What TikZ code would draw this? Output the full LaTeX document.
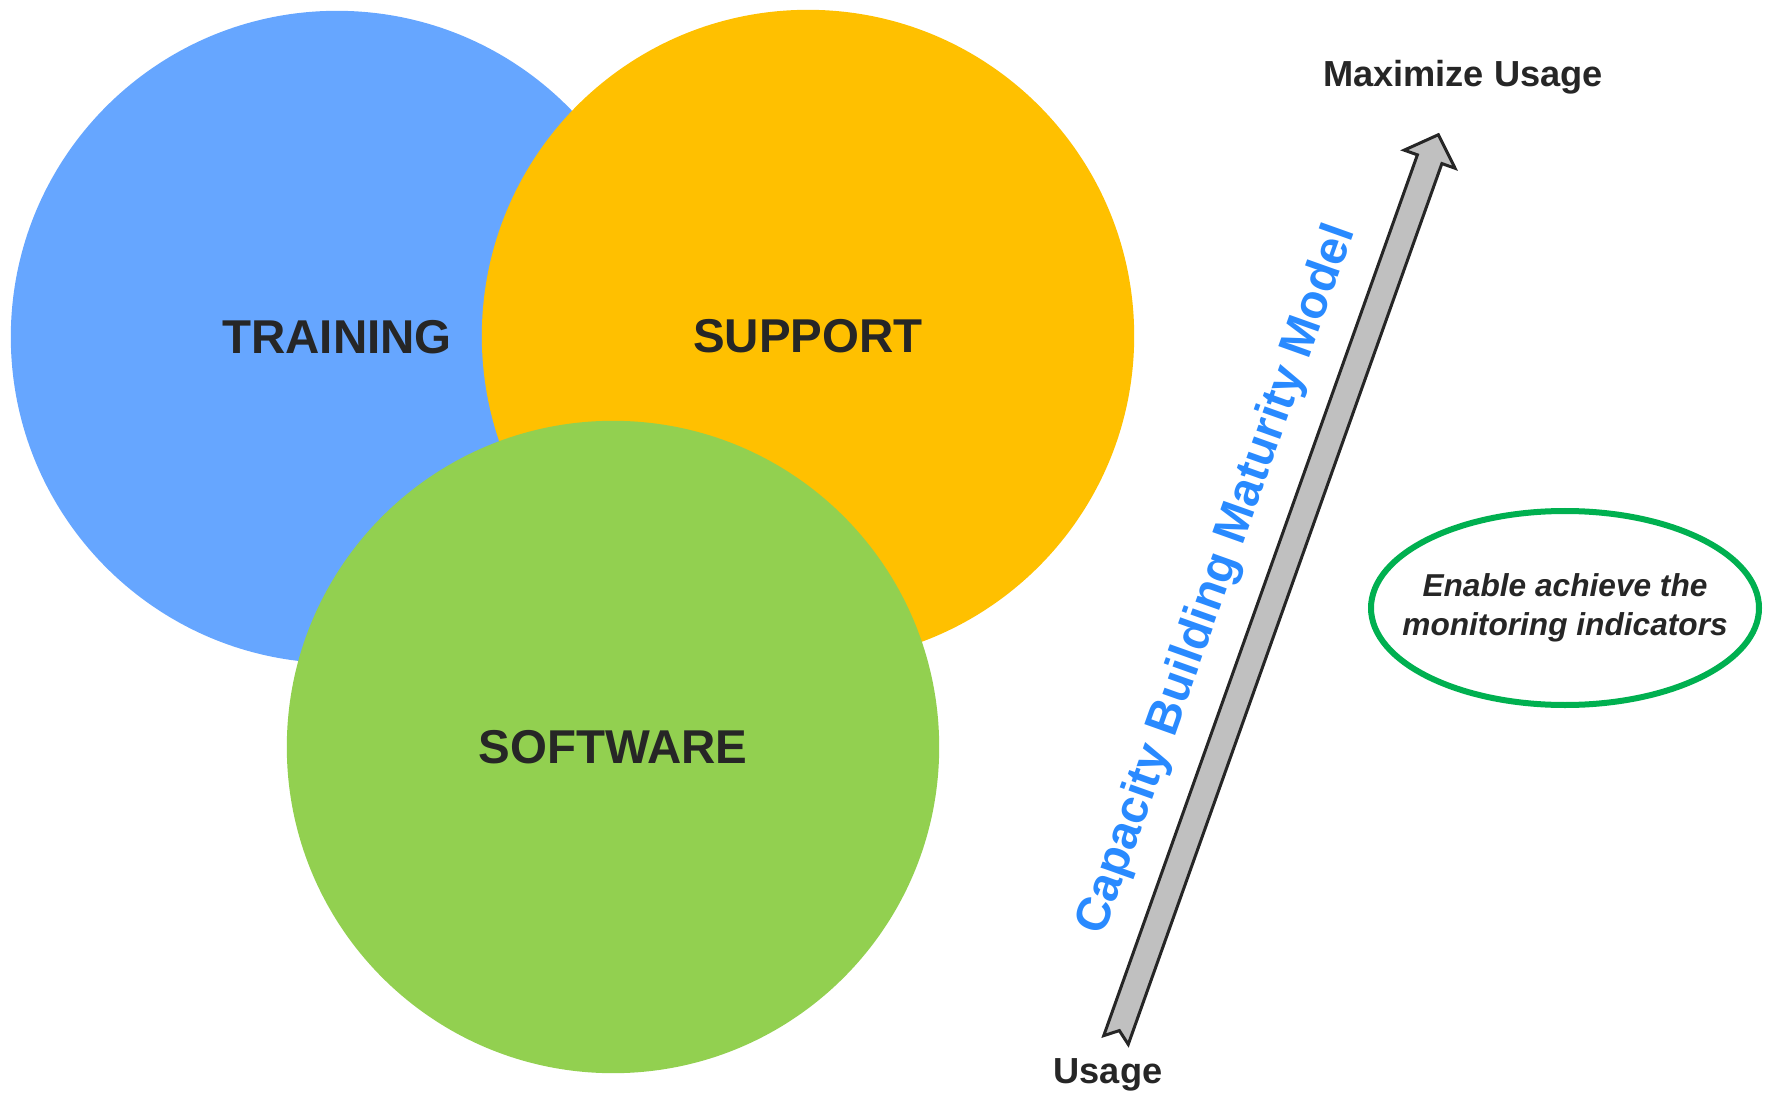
\documentclass[tikz,border=0pt]{standalone}
\usepackage{fontspec}
\setmainfont{Liberation Sans}
\usetikzlibrary{positioning}

\definecolor{trainblue}{RGB}{102,166,255}
\definecolor{supportgold}{RGB}{255,192,0}
\definecolor{softgreen}{RGB}{146,208,80}
\definecolor{modelblue}{RGB}{41,138,255}
\definecolor{ringgreen}{RGB}{0,176,80}
\definecolor{shaftgray}{RGB}{192,192,192}
\definecolor{ink}{RGB}{38,38,38}

\begin{document}
\begin{tikzpicture}[x=0.01cm, y=-0.01cm,
    area/.style={circle, minimum size=6.52cm, inner sep=0pt, text=ink,
                 font=\fontsize{13.5}{16}\selectfont\bfseries},
    endlabel/.style={text=ink, anchor=base, font=\fontsize{10.3}{12}\selectfont\bfseries}]
    \useasboundingbox (0,0) rectangle (1766,1094);

    \node[area, fill=trainblue] (training) at (337,337) {TRAINING};
    \node[area, fill=supportgold] (support) at (808,336) {SUPPORT};
    \node[area, fill=softgreen] (software) at (613,747) {SOFTWARE};

    \coordinate (tail) at (1116,1040);
    \begin{scope}[shift={(tail)}, rotate=70.4]
        \draw[fill=shaftgray, draw=ink, line width=0.03cm] (0,-13) -- (935,-13) -- (935,-27) -- (961,0)
            -- (935,27) -- (935,13) -- (0,13) -- (10,0) -- cycle;
    \end{scope}

    \node[endlabel] (top) at (1463,87) {Maximize Usage};
    \node[endlabel] (bottom) at (1108,1083) {Usage};

    \node[rotate=70.4, anchor=base, text=modelblue, font=\fontsize{13.5}{16}\selectfont\bfseries]
        (model) at (1229,584) {Capacity Building Maturity Model};

    \node[align=center, text=ink, font=\fontsize{9}{11.1}\selectfont\bfseries\itshape]
        (goal) at (1565,608) {Enable achieve the\\monitoring indicators};
    \draw[ringgreen, line width=0.06cm] (goal.center) ellipse [x radius=194, y radius=97];
\end{tikzpicture}
\end{document}
